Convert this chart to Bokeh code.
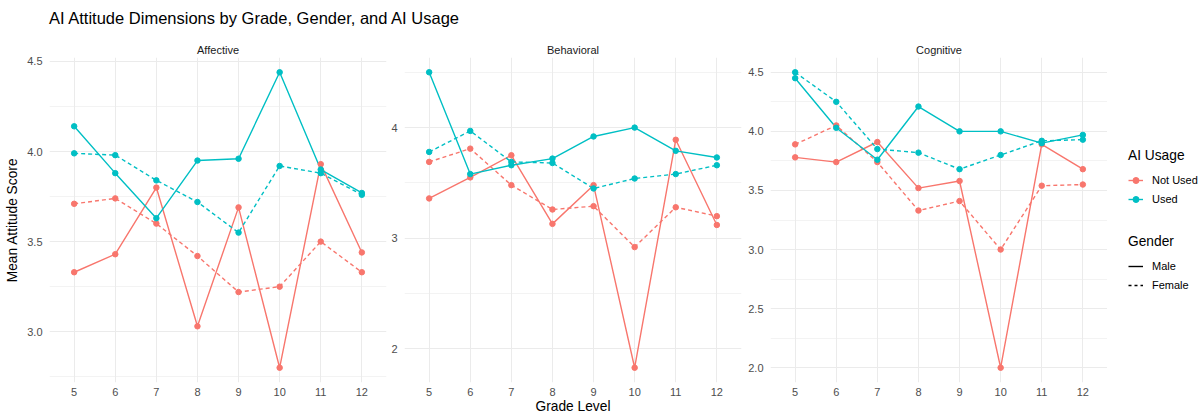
from bokeh.plotting import figure
from bokeh.layouts import row, column
from bokeh.models import Div, Range1d, FixedTicker, Legend, LegendItem
from bokeh.embed import file_html
from bokeh.resources import INLINE

# ---------------- data ----------------
grades = [5, 6, 7, 8, 9, 10, 11, 12]
grade_labels = ["5", "6", "7", "8", "9", "10", "11", "12"]

dimensions = ["Affective", "Behavioral", "Cognitive"]
usage_levels = ["Not Used", "Used"]
genders = ["Male", "Female"]

affective_notused_male = [3.33, 3.43, 3.80, 3.03, 3.69, 2.80, 3.93, 3.44]
affective_notused_female = [3.71, 3.74, 3.60, 3.42, 3.22, 3.25, 3.50, 3.33]
affective_used_male = [4.14, 3.88, 3.63, 3.95, 3.96, 4.44, 3.90, 3.77]
affective_used_female = [3.99, 3.98, 3.84, 3.72, 3.55, 3.92, 3.88, 3.76]

behavioral_notused_male = [3.36, 3.55, 3.75, 3.13, 3.48, 1.83, 3.89, 3.12]
behavioral_notused_female = [3.69, 3.81, 3.48, 3.26, 3.29, 2.92, 3.28, 3.20]
behavioral_used_male = [4.50, 3.58, 3.66, 3.72, 3.92, 4.00, 3.79, 3.73]
behavioral_used_female = [3.78, 3.97, 3.69, 3.68, 3.45, 3.54, 3.58, 3.66]

cognitive_notused_male = [3.78, 3.74, 3.91, 3.52, 3.58, 2.00, 3.89, 3.68]
cognitive_notused_female = [3.89, 4.05, 3.74, 3.33, 3.41, 3.00, 3.54, 3.55]
cognitive_used_male = [4.45, 4.03, 3.76, 4.21, 4.00, 4.00, 3.90, 3.97]
cognitive_used_female = [4.50, 4.25, 3.85, 3.82, 3.68, 3.80, 3.92, 3.93]

affective_ticks = [3.0, 3.5, 4.0, 4.5]
affective_tick_labels = ["3.0", "3.5", "4.0", "4.5"]
affective_minor = [2.75, 3.25, 3.75, 4.25]
behavioral_ticks = [2, 3, 4]
behavioral_tick_labels = ["2", "3", "4"]
behavioral_minor = [2.5, 3.5, 4.5]
cognitive_ticks = [2.0, 2.5, 3.0, 3.5, 4.0, 4.5]
cognitive_tick_labels = ["2.0", "2.5", "3.0", "3.5", "4.0", "4.5"]
cognitive_minor = [2.25, 2.75, 3.25, 3.75, 4.25]

# ---------------- style ----------------
RED = "#F8766D"
TEAL = "#00BFC4"
FONT = "Liberation Sans"
GRID = "#EBEBEB"
H = 386
TOP = 27
BOT = 34
LW = 1.4
DASH = "4 3"
PT = 5.5


def make_panel(title, nm, nf, um, uf, ticks, tick_labels, minor, width,
               left, right, ylabel=None, xlabel=None):
    allv = nm + nf + um + uf
    lo, hi = min(allv), max(allv)
    pad = 0.05 * (hi - lo)
    p = figure(width=width, height=H, x_range=Range1d(4.4, 12.6),
               y_range=Range1d(lo - pad, hi + pad), output_backend="svg",
               toolbar_location=None, min_border_left=left,
               min_border_right=right, min_border_top=TOP,
               min_border_bottom=BOT)
    p.outline_line_color = None
    p.background_fill_color = "white"
    p.title.text = title
    p.title.align = "center"
    p.title.text_font = FONT
    p.title.text_font_size = "11px"
    p.title.text_font_style = "normal"
    p.title.text_color = "#1A1A1A"
    p.title.standoff = 3

    p.xaxis.ticker = FixedTicker(ticks=grades, minor_ticks=[])
    p.xaxis.major_label_overrides = {g: l for g, l in zip(grades, grade_labels)}
    p.yaxis.ticker = FixedTicker(ticks=ticks, minor_ticks=minor)
    p.yaxis.major_label_overrides = {t: l for t, l in zip(ticks, tick_labels)}
    for ax in (p.xaxis, p.yaxis):
        ax.axis_line_color = None
        ax.major_tick_line_color = None
        ax.minor_tick_line_color = None
        ax.major_tick_out = 0
        ax.major_tick_in = 0
        ax.minor_tick_out = 0
        ax.minor_tick_in = 0
        ax.major_label_text_font = FONT
        ax.major_label_text_font_size = "11px"
        ax.major_label_text_color = "#4D4D4D"
        ax.axis_label_text_font = FONT
        ax.axis_label_text_font_size = "13.75px"
        ax.axis_label_text_font_style = "normal"
        ax.axis_label_text_color = "#000000"
    p.xaxis.major_label_standoff = 5
    p.yaxis.major_label_standoff = 7
    p.xaxis.axis_label_standoff = 0
    p.yaxis.axis_label_standoff = 4
    if ylabel:
        p.yaxis.axis_label = ylabel
    if xlabel:
        p.xaxis.axis_label = xlabel

    p.xgrid.grid_line_color = GRID
    p.xgrid.grid_line_width = 1
    p.ygrid.grid_line_color = GRID
    p.ygrid.grid_line_width = 1
    p.ygrid.minor_grid_line_color = GRID
    p.ygrid.minor_grid_line_width = 0.6

    series = [(nm, RED, "solid"), (nf, RED, DASH), (um, TEAL, "solid"), (uf, TEAL, DASH)]
    for vals, col, dash in series:
        p.line(grades, vals, line_color=col, line_width=LW, line_dash=dash)
    for vals, col, dash in series:
        p.scatter(grades, vals, size=PT, fill_color=col, line_color=col)
    return p


f1 = make_panel(dimensions[0], affective_notused_male, affective_notused_female,
                affective_used_male, affective_used_female,
                affective_ticks, affective_tick_labels, affective_minor,
                width=388, left=49, right=2, ylabel="Mean Attitude Score")
f2 = make_panel(dimensions[1], behavioral_notused_male, behavioral_notused_female,
                behavioral_used_male, behavioral_used_female,
                behavioral_ticks, behavioral_tick_labels, behavioral_minor,
                width=355, left=16, right=2, xlabel="Grade Level")
f3 = make_panel(dimensions[2], cognitive_notused_male, cognitive_notused_female,
                cognitive_used_male, cognitive_used_female,
                cognitive_ticks, cognitive_tick_labels, cognitive_minor,
                width=364, left=27, right=0)

# ---------------- legend panel ----------------
lg = figure(width=97, height=H, x_range=Range1d(0, 1), y_range=Range1d(0, 1),
            output_backend="svg", toolbar_location=None, min_border=0,
            min_border_top=TOP, min_border_bottom=BOT,
            x_axis_type=None, y_axis_type=None)
lg.outline_line_color = None
lg.grid.visible = False

off_x = [-10, -11]
off_y = [-10, -11]
rl_n = lg.line(off_x, off_y, line_color=RED, line_width=LW)
rp_n = lg.scatter(off_x, off_y, size=PT, fill_color=RED, line_color=RED)
rl_u = lg.line(off_x, off_y, line_color=TEAL, line_width=LW)
rp_u = lg.scatter(off_x, off_y, size=PT, fill_color=TEAL, line_color=TEAL)
rl_m = lg.line(off_x, off_y, line_color="#000000", line_width=LW)
rl_f = lg.line(off_x, off_y, line_color="#000000", line_width=LW, line_dash="3 3")


def style_legend(leg):
    leg.title_text_font = FONT
    leg.title_text_font_size = "13.75px"
    leg.title_text_font_style = "normal"
    leg.title_text_color = "#000000"
    leg.label_text_font = FONT
    leg.label_text_font_size = "11px"
    leg.label_text_color = "#000000"
    leg.glyph_width = 15
    leg.glyph_height = 18
    leg.label_height = 18
    leg.label_standoff = 9
    leg.spacing = 1
    leg.padding = 0
    leg.margin = 0
    leg.border_line_color = None
    leg.background_fill_alpha = 0
    leg.title_standoff = 8


leg1 = Legend(items=[LegendItem(label=usage_levels[0], renderers=[rl_n, rp_n]),
                     LegendItem(label=usage_levels[1], renderers=[rl_u, rp_u])],
              title="AI Usage", location=(21, 174))
style_legend(leg1)
leg2 = Legend(items=[LegendItem(label=genders[0], renderers=[rl_m]),
                     LegendItem(label=genders[1], renderers=[rl_f])],
              title="Gender", location=(21, 88))
style_legend(leg2)
lg.add_layout(leg1)
lg.add_layout(leg2)

title_div = Div(
    text=('<div style="font-family:\'Liberation Sans\',Arial,sans-serif;'
          'font-size:16.5px;color:#000000;padding-left:49px;padding-top:8px;'
          'line-height:20px;white-space:nowrap;">'
          'AI Attitude Dimensions by Grade, Gender, and AI Usage</div>'),
    width=1204, height=30, margin=(0, 0, 0, 0))

layout = column(title_div, row(f1, f2, f3, lg, spacing=0), spacing=0)

open("out.html", "w").write(file_html(layout, INLINE))
